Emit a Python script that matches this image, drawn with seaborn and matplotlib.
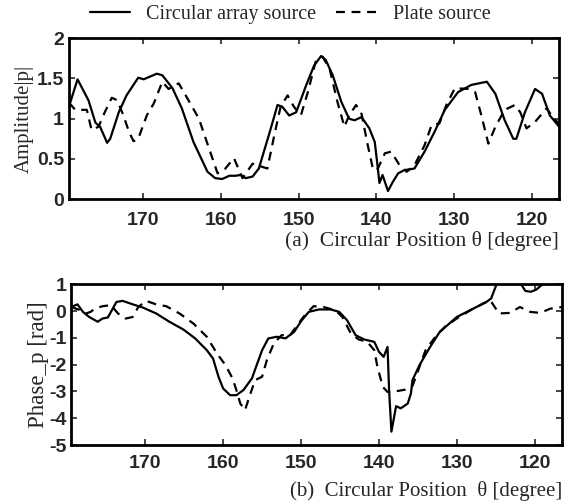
import pandas as pd
import matplotlib
matplotlib.use("Agg")
import matplotlib.pyplot as plt
import seaborn as sns

# (a) amplitude |p|
amp_x_circ = [179.5, 178.4, 177.0, 176.1, 175.5, 174.6, 174.2, 173.1, 172.1, 170.6, 169.9,
              168.2, 167.5, 166.2, 165.0, 163.5, 161.7, 160.7, 159.8, 158.9, 158.1, 157.4,
              156.8, 155.9, 155.1, 153.8, 152.7, 152.1, 151.2, 150.3, 149.0, 148.0, 147.1,
              146.5, 145.6, 144.5, 143.5, 142.8, 141.9, 140.9, 140.2, 139.8, 139.6, 139.2,
              138.5, 137.9, 137.2, 136.4, 135.1, 133.8, 132.5, 131.2, 129.5, 127.8, 125.8,
              124.7, 123.5, 122.4, 122.0, 120.9, 119.6, 118.7, 117.7, 116.5]
amp_y_circ = [1.15, 1.49, 1.23, 0.95, 0.90, 0.70, 0.75, 1.08, 1.29, 1.51, 1.49,
              1.56, 1.54, 1.38, 1.13, 0.71, 0.34, 0.26, 0.25, 0.29, 0.29, 0.30,
              0.26, 0.28, 0.38, 0.80, 1.17, 1.15, 1.04, 1.08, 1.42, 1.66, 1.78,
              1.73, 1.54, 1.21, 1.00, 0.98, 1.02, 0.88, 0.71, 0.38, 0.20, 0.30,
              0.10, 0.21, 0.32, 0.36, 0.38, 0.59, 0.84, 1.11, 1.33, 1.42, 1.46,
              1.31, 0.98, 0.75, 0.75, 1.08, 1.37, 1.31, 1.04, 0.90]

amp_x_plate = [179.5, 178.7, 177.2, 176.6, 175.7, 174.9, 174.0, 173.3, 172.5, 171.8, 171.2,
               170.6, 169.5, 168.6, 167.5, 166.7, 165.4, 164.5, 162.8, 161.5, 160.4, 159.4,
               158.3, 157.2, 155.9, 154.0, 153.1, 152.3, 151.4, 150.6, 149.7, 148.8, 147.8,
               146.9, 146.0, 145.0, 144.1, 143.5, 142.6, 141.9, 141.1, 140.4, 139.8, 138.9,
               138.1, 137.0, 136.1, 135.1, 133.8, 132.9, 131.9, 131.0, 129.9, 128.2, 127.3,
               126.5, 125.6, 124.7, 123.5, 122.2, 121.5, 120.7, 119.6, 118.1, 117.2, 116.5]
amp_y_plate = [1.20, 1.11, 1.11, 0.86, 0.90, 1.08, 1.26, 1.23, 1.04, 0.84, 0.72,
               0.75, 1.04, 1.19, 1.46, 1.37, 1.44, 1.29, 1.00, 0.63, 0.32, 0.38,
               0.51, 0.26, 0.44, 0.38, 0.80, 1.15, 1.29, 1.15, 1.04, 1.33, 1.71,
               1.77, 1.62, 1.21, 0.90, 1.04, 1.17, 1.06, 0.67, 0.36, 0.38, 0.57,
               0.59, 0.42, 0.34, 0.42, 0.67, 0.92, 0.94, 1.17, 1.38, 1.37, 1.33,
               1.04, 0.69, 0.90, 1.11, 1.17, 1.08, 0.88, 0.96, 1.13, 1.00, 0.94]

# (b) phase of p
ph_x_circ = [179.5, 178.7, 178.0, 177.2, 176.1, 175.5, 174.8, 173.7, 172.9, 171.6, 170.3,
             168.6, 166.9, 165.1, 163.6, 162.1, 161.3, 160.6, 160.0, 159.1, 158.3, 157.4,
             156.3, 155.7, 155.0, 154.2, 153.1, 152.0, 150.9, 149.9, 149.0, 147.7, 146.2,
             145.1, 144.1, 143.0, 141.9, 140.6, 140.0, 139.4, 138.9, 138.7, 138.4, 137.8,
             137.2, 136.3, 135.9, 135.7, 134.8, 133.5, 132.2, 130.0, 127.9, 126.2, 125.6,
             124.9, 124.0, 123.0, 122.2, 121.2, 120.5, 119.8, 118.8, 117.5, 116.5]
ph_y_circ = [0.15, 0.25, -0.03, -0.22, -0.40, -0.28, -0.24, 0.34, 0.38, 0.25, 0.13,
             -0.09, -0.40, -0.69, -1.02, -1.46, -1.77, -2.45, -2.89, -3.14, -3.14, -2.95,
             -2.51, -2.02, -1.46, -1.02, -0.96, -1.02, -0.78, -0.34, -0.03, 0.06, 0.06,
             -0.03, -0.34, -0.90, -1.06, -1.15, -1.52, -1.71, -1.34, -2.95, -4.50, -3.55,
             -3.63, -3.45, -3.08, -2.58, -2.02, -1.37, -0.78, -0.22, 0.09, 0.34, 0.47,
             1.00, 1.30, 1.40, 1.20, 0.75, 0.72, 0.80, 1.05, 1.30, 1.40]

ph_x_plate = [179.5, 178.5, 177.6, 177.0, 176.5, 175.5, 174.4, 173.5, 172.5, 171.6, 170.9,
              169.9, 168.6, 167.3, 165.6, 163.8, 162.1, 160.8, 159.7, 158.8, 158.3, 157.8,
              157.2, 156.5, 155.9, 155.0, 154.4, 153.5, 152.5, 151.4, 150.5, 149.7, 148.4,
              147.1, 145.6, 144.7, 143.6, 142.6, 141.5, 140.6, 140.2, 139.5, 138.9, 138.3,
              136.6, 135.7, 134.8, 134.0, 132.6, 131.4, 129.7, 127.9, 126.2, 125.7, 124.6,
              123.2, 121.9, 120.6, 119.3, 118.0, 116.5]
ph_y_plate = [0.15, 0.05, -0.09, -0.03, 0.09, 0.18, 0.22, -0.09, -0.28, -0.22, 0.15,
              0.38, 0.25, 0.18, -0.09, -0.47, -0.96, -1.58, -2.02, -2.51, -2.95, -3.45,
              -3.70, -3.08, -2.58, -2.45, -1.84, -1.21, -0.90, -0.90, -0.53, -0.22, 0.18,
              0.15, 0.03, -0.22, -0.84, -1.06, -1.15, -1.46, -2.08, -2.83, -3.02, -3.02,
              -2.93, -2.80, -2.08, -1.45, -0.90, -0.55, -0.22, 0.09, 0.34, 0.40, -0.09,
              -0.07, 0.15, -0.03, -0.07, 0.09, 0.15]

x_ticks = [170, 160, 150, 140, 130, 120]
amp_ticks = [0, 0.5, 1, 1.5, 2]
amp_tick_labels = ["0", "0.5", "1", "1.5", "2"]
ph_ticks = [1, 0, -1, -2, -3, -4, -5]

sns.set_style("ticks")
plt.rcParams["font.family"] = ["Liberation Serif", "DejaVu Serif"]

fig = plt.figure(figsize=(5.7, 5.04), dpi=100)
ax1 = fig.add_axes([0.121, 0.605, 0.860, 0.319])
ax2 = fig.add_axes([0.125, 0.117, 0.861, 0.319])

serif_fam = ["Liberation Serif", "DejaVu Serif"]
sans_fam = ["Liberation Sans", "DejaVu Sans"]

for ax, xs, ys, pad in [(ax1, (amp_x_circ, amp_x_plate), (amp_y_circ, amp_y_plate), 9),
                        (ax2, (ph_x_circ, ph_x_plate), (ph_y_circ, ph_y_plate), 7)]:
    df_c = pd.DataFrame({"theta": xs[0], "val": ys[0]})
    df_p = pd.DataFrame({"theta": xs[1], "val": ys[1]})
    sns.lineplot(data=df_c, x="theta", y="val", ax=ax, color="black", lw=1.6,
                 sort=False, label="Circular array source")
    sns.lineplot(data=df_p, x="theta", y="val", ax=ax, color="black", lw=1.6,
                 sort=False, label="Plate source")
    ax.lines[1].set_dashes([4, 3])
    ax.set_xlim(179.5, 116.5)
    ax.set_xticks(x_ticks)
    ax.tick_params(direction="in", top=True, right=True, length=4, width=1.2)
    ax.tick_params(axis="x", pad=pad)
    for sp in ax.spines.values():
        sp.set_linewidth(2)
        sp.set_color("black")
    for lab in ax.get_xticklabels():
        lab.set_family(sans_fam)
        lab.set_fontweight("bold")
        lab.set_fontsize(14)
    ax.get_legend().remove()

ax1.set_ylim(0, 2)
ax1.set_yticks(amp_ticks)
ax1.set_yticklabels(amp_tick_labels, family=sans_fam, fontweight="bold", fontsize=14)
ax1.set_ylabel("Amplitude|p|", family=serif_fam, fontsize=15, labelpad=2)
ax1.set_xlabel("(a)  Circular Position θ [degree]", family=serif_fam, fontsize=15.5,
               loc="right", labelpad=2)

ax2.set_ylim(-5, 1)
ax2.set_yticks(ph_ticks)
ax2.set_yticklabels([str(t) for t in ph_ticks], family=sans_fam, fontweight="bold", fontsize=14)
ax2.set_ylabel("Phase_p [rad]", family=serif_fam, fontsize=16.5, labelpad=0)
ax2.set_xlabel("(b)  Circular Position  θ [degree]", family=serif_fam, fontsize=15,
               loc="right", labelpad=7)

handles, labels = ax1.get_legend_handles_labels()
fig.legend(handles, labels, loc="center", bbox_to_anchor=(0.509, 0.972), ncol=2,
           frameon=False, handlelength=2.0, columnspacing=1.0,
           prop={"family": serif_fam, "size": 14.5})

fig.savefig("out.png", dpi=100)
